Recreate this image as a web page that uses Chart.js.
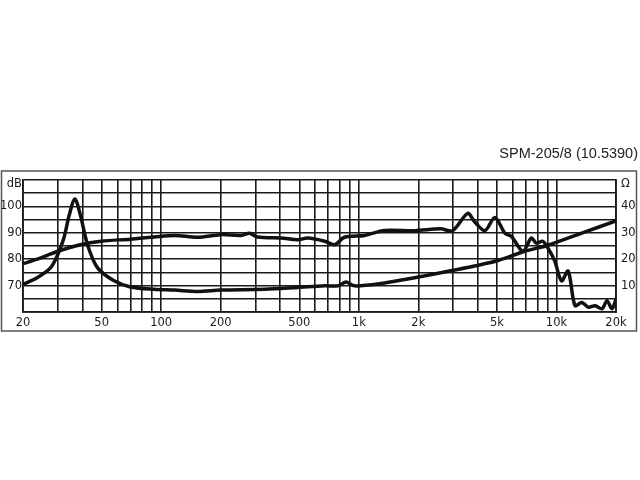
<!DOCTYPE html>
<html>
<head>
<meta charset="utf-8">
<script src="https://cdn.jsdelivr.net/npm/chart.js@4"></script>
<style>
  html, body { margin: 0; padding: 0; background: #fff; }
  #wrap { position: relative; width: 640px; height: 480px; }
  #title {
    position: absolute; right: 2px; top: 145px;
    font: 14.5px "Liberation Sans", Arial, sans-serif; color: #222;
  }
</style>
</head>
<body>
<div id="wrap">
  <canvas id="chart" width="640" height="480"></canvas>
  <div id="title">SPM-205/8 (10.5390)</div>
</div>
<script>
// SPL curve (dB, left axis)
const splFreq = [20, 23.6, 30, 39, 49.6, 70, 92, 117, 153, 200, 254, 280, 308, 404, 492, 552, 672, 755, 846, 1068, 1348, 1916, 2600, 2980, 3560, 3840, 4340, 4880, 5480, 5920, 6760, 7460, 7900, 8520, 9040, 9800, 10600, 11460, 12400, 13420, 14500, 15700, 17000, 18000, 19100, 20000];
const splDb = [78.3, 80, 83, 85.5, 86.8, 87.6, 88.4, 89, 88.3, 89.3, 89, 89.8, 88.4, 88, 87.4, 88, 86.8, 85.5, 88.3, 89, 90.9, 90.8, 91.5, 90.8, 97.4, 94.3, 90.8, 95.8, 89.9, 88.6, 83, 88, 86.1, 86.8, 84.3, 79.3, 71.8, 75.5, 62.4, 63.6, 61.8, 62.4, 61.2, 64.3, 61.2, 64.9];

// impedance curve (ohm, right axis)
const impFreq = [20, 23.6, 27.6, 30, 32.2, 34.3, 36.6, 39, 42.4, 47.6, 57.8, 70, 92, 117, 153, 200, 334, 492, 672, 784, 862, 950, 1298, 1916, 2600, 3160, 3840, 5060, 6900, 9040, 13420, 20000];
const impOhm = [10.5, 13, 16.8, 21.8, 28, 36.8, 42.8, 36.8, 25.5, 16.8, 11.8, 9.5, 8.6, 8.3, 7.8, 8.3, 8.6, 9.3, 9.9, 9.9, 11.4, 9.9, 10.8, 13, 14.9, 16.1, 17.4, 19.5, 23, 25.3, 29.9, 34.5];

// axis ticks
const xGrid = [20, 30, 40, 50, 60, 70, 80, 90, 100, 200, 300, 400, 500, 600, 700, 800, 900, 1000, 2000, 3000, 4000, 5000, 6000, 7000, 8000, 9000, 10000, 20000];
const xLabels = {20: '20', 50: '50', 100: '100', 200: '200', 500: '500', 1000: '1k', 2000: '2k', 5000: '5k', 10000: '10k', 20000: '20k'};
const dbGrid = [60, 65, 70, 75, 80, 85, 90, 95, 100, 105, 110];
const dbLabels = {70: '70', 80: '80', 90: '90', 100: '100'};
const ohmGrid = [0, 5, 10, 15, 20, 25, 30, 35, 40, 45, 50];
const ohmLabels = {10: '10', 20: '20', 30: '30', 40: '40'};
// unit names sit a little below the top line
const dbUnitAt = 108.3, ohmUnitAt = 48.3;

const pts = (xs, ys) => xs.map((x, i) => ({x: x, y: ys[i]}));
const tickFont = {family: '"DejaVu Sans", Verdana, sans-serif', size: 11.5};
const ink = '#1a1a1a';

// grey frame round the whole graph
const frame = {
  id: 'frame',
  beforeDraw(chart) {
    const c = chart.ctx;
    c.save();
    c.fillStyle = '#fff';
    c.fillRect(0, 0, chart.width, chart.height);
    c.strokeStyle = '#555';
    c.lineWidth = 1.5;
    c.strokeRect(1.5, 171, 635, 160);
    c.restore();
  }
};

new Chart(document.getElementById('chart'), {
  type: 'line',
  data: {
    datasets: [
      {data: pts(splFreq, splDb), yAxisID: 'y', borderColor: '#111', borderWidth: 3.5, pointRadius: 0, tension: 0.3, fill: false},
      {data: pts(impFreq, impOhm), yAxisID: 'y2', borderColor: '#111', borderWidth: 3.5, pointRadius: 0, tension: 0.3, fill: false}
    ]
  },
  options: {
    responsive: false,
    animation: false,
    layout: {padding: {left: 2, right: 3, top: 180, bottom: 150}},
    plugins: {legend: {display: false}, tooltip: {enabled: false}},
    scales: {
      x: {
        type: 'logarithmic', min: 20, max: 20000,
        afterBuildTicks: s => { s.ticks = xGrid.map(v => ({value: v})); },
        afterFit: s => { s.height = 18; },
        grid: {color: ink, lineWidth: 1.6, drawTicks: false},
        border: {color: ink, width: 1.8},
        ticks: {autoSkip: false, maxRotation: 0, padding: 4, color: ink, font: tickFont,
          callback: v => xLabels[v] || ''}
      },
      y: {
        position: 'left', min: 60, max: 110,
        afterBuildTicks: s => { s.ticks = dbGrid.concat([dbUnitAt]).map(v => ({value: v})); },
        afterFit: s => { s.width = 21; },
        grid: {lineWidth: 1.6, drawTicks: false,
          color: c => c.tick && c.tick.value === dbUnitAt ? 'rgba(0,0,0,0)' : ink},
        border: {color: ink, width: 1.8},
        ticks: {autoSkip: false, padding: 1, color: ink, font: tickFont,
          callback: v => v === dbUnitAt ? 'dB' : (dbLabels[v] || '')}
      },
      y2: {
        position: 'right', min: 0, max: 50,
        afterBuildTicks: s => { s.ticks = ohmGrid.concat([ohmUnitAt]).map(v => ({value: v})); },
        afterFit: s => { s.width = 21; },
        grid: {display: false, drawTicks: false},
        border: {color: ink, width: 1.8},
        ticks: {autoSkip: false, padding: 5, color: ink, font: tickFont,
          callback: v => v === ohmUnitAt ? 'Ω' : (ohmLabels[v] || '')}
      }
    }
  },
  plugins: [frame]
});
</script>
</body>
</html>
